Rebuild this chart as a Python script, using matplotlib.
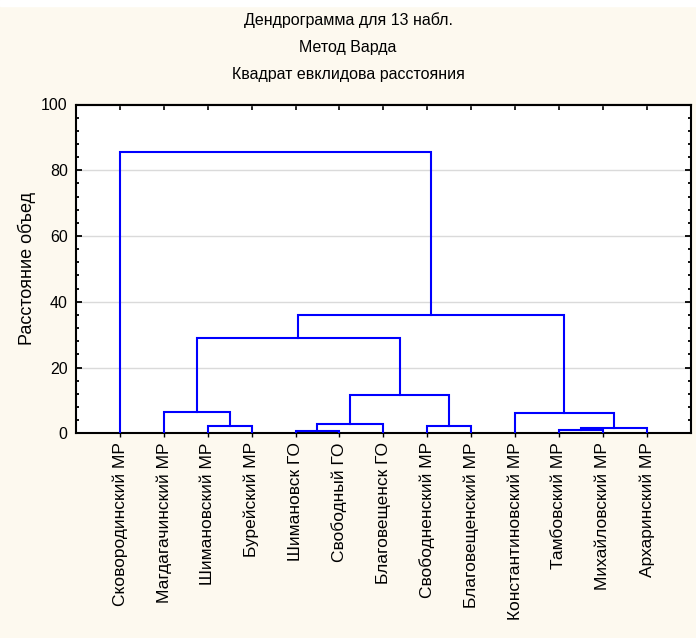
import matplotlib
matplotlib.use('Agg')
import matplotlib.pyplot as plt
from matplotlib.patches import Rectangle
from matplotlib.ticker import MultipleLocator

# leaves in display order
leaves = ['Сковородинский МР', 'Магдагачинский МР', 'Шимановский МР', 'Бурейский МР',
          'Шимановск ГО', 'Свободный ГО', 'Благовещенск ГО', 'Свободненский МР',
          'Благовещенский МР', 'Константиновский МР', 'Тамбовский МР',
          'Михайловский МР', 'Архаринский МР']

# merges: (left node, right node, distance); new nodes numbered from 13 up
merge_a = [4, 10, 14, 2, 7, 13, 9, 1, 18, 20, 22, 0]
merge_b = [5, 11, 12, 3, 8, 6, 15, 16, 17, 21, 19, 23]
merge_h = [0.7, 1.0, 1.7, 2.3, 2.2, 2.8, 6.2, 6.5, 11.5, 29.0, 35.9, 85.5]

title_lines = ['Дендрограмма для 13 набл.', 'Метод Варда', 'Квадрат евклидова расстояния']

bg = '#FDF9EF'
blue = '#0000FF'
plt.rcParams['font.family'] = ['Liberation Sans', 'DejaVu Sans']

fig = plt.figure(figsize=(6.96, 6.38), dpi=100, facecolor=bg)
fig.patches.append(Rectangle((0, 1 - 6 / 638), 1, 6 / 638, transform=fig.transFigure,
                             color='white', zorder=0))
ax = fig.add_axes([76 / 696, (638 - 433.3) / 638, (690.7 - 76) / 696, (433.3 - 104.5) / 638])
ax.set_facecolor('white')

n = len(leaves)
xpos = {i: i + 1 for i in range(n)}
ypos = {i: 0.0 for i in range(n)}
for k, (a, b, h) in enumerate(zip(merge_a, merge_b, merge_h)):
    xa, xb = xpos[a], xpos[b]
    ax.plot([xa, xa, xb, xb], [ypos[a], h, h, ypos[b]], color=blue, lw=1.5,
            solid_joinstyle='miter', zorder=3)
    xpos[n + k] = (xa + xb) / 2
    ypos[n + k] = h

ax.set_xlim(0, n + 1)
ax.set_ylim(0, 100)
ax.set_xticks(range(1, n + 1))
ax.set_xticklabels(leaves, rotation=90, fontsize=12.5)
ax.set_yticks(range(0, 101, 20))
ax.yaxis.set_minor_locator(MultipleLocator(4))
ax.tick_params(axis='y', which='both', direction='in', right=True, labelsize=11.5, pad=6)
ax.tick_params(axis='y', which='major', length=4, width=1.3)
ax.tick_params(axis='y', which='minor', length=2.5, width=1.3)
ax.tick_params(axis='x', which='major', direction='out', length=3, width=1, top=False)
ax.grid(axis='y', color='#DADADA', lw=1, zorder=0)
ax.set_axisbelow(True)
for s in ax.spines.values():
    s.set_linewidth(1.5)

# inward ticks along the top edge
top = ax.secondary_xaxis('top')
top.set_xticks(range(1, n + 1))
top.tick_params(direction='in', length=4, width=1.2, labeltop=False)

ax.set_ylabel('Расстояние объед', fontsize=13)
ax.yaxis.set_label_coords(-40 / 614.7, 0.5)

for i, t in enumerate(title_lines):
    fig.text(0.5, 1 - (20 + 27.5 * i) / 638, t, ha='center', va='center', fontsize=11.5)

fig.savefig('out.png', dpi=100, facecolor=bg)
